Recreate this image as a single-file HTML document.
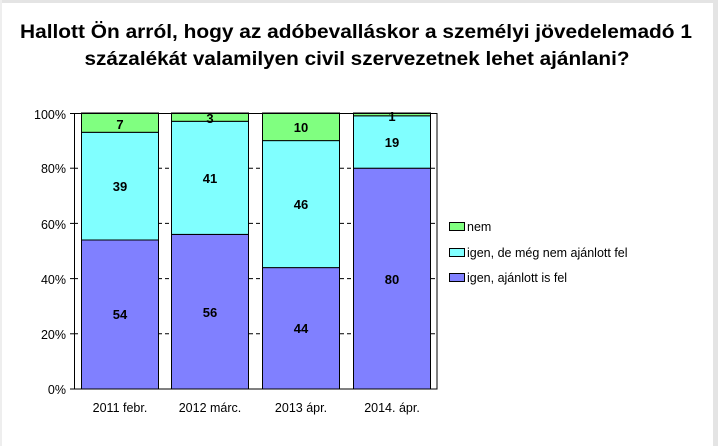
<!DOCTYPE html>
<html><head><meta charset="utf-8"><style>
html,body{margin:0;padding:0;background:#fff;}
svg{display:block;font-family:"Liberation Sans",Arial,sans-serif;}
</style></head><body>
<svg width="718" height="446" viewBox="0 0 718 446">
<rect x="0" y="0" width="718" height="446" fill="#fff"/>
<rect x="0" y="0" width="718" height="3" fill="#e4e4e4"/>
<rect x="713" y="0" width="5" height="446" fill="#e4e4e4"/>
<rect x="0" y="0" width="2" height="446" fill="#eeeeee"/>
<g font-weight="bold" font-size="19" fill="#000" text-anchor="middle">
<text x="356" y="38" textLength="672" lengthAdjust="spacingAndGlyphs">Hallott Ön arról, hogy az adóbevalláskor a személyi jövedelemadó 1</text>
<text x="357" y="65" textLength="545" lengthAdjust="spacingAndGlyphs">százalékát valamilyen civil szervezetnek lehet ajánlani?</text>
</g>
<!-- grid -->
<g stroke="#000" stroke-width="1" stroke-dasharray="4,3">
<line x1="74" y1="333.8" x2="437" y2="333.8"/>
<line x1="74" y1="278.6" x2="437" y2="278.6"/>
<line x1="74" y1="223.4" x2="437" y2="223.4"/>
<line x1="74" y1="168.2" x2="437" y2="168.2"/>
</g>
<g stroke="#000" stroke-width="1">
<!-- bar1 -->
<rect x="81.5" y="240" width="77" height="149" fill="#8080ff"/>
<rect x="81.5" y="132.3" width="77" height="107.7" fill="#80ffff"/>
<rect x="81.5" y="113" width="77" height="19.3" fill="#80ff80"/>
<!-- bar2 -->
<rect x="171.5" y="234.4" width="77" height="154.6" fill="#8080ff"/>
<rect x="171.5" y="121.3" width="77" height="113.1" fill="#80ffff"/>
<rect x="171.5" y="113" width="77" height="8.3" fill="#80ff80"/>
<!-- bar3 -->
<rect x="262.5" y="267.6" width="77" height="121.4" fill="#8080ff"/>
<rect x="262.5" y="140.6" width="77" height="127" fill="#80ffff"/>
<rect x="262.5" y="113" width="77" height="27.6" fill="#80ff80"/>
<!-- bar4 -->
<rect x="353.5" y="168.2" width="77" height="220.8" fill="#8080ff"/>
<rect x="353.5" y="115.8" width="77" height="52.4" fill="#80ffff"/>
<rect x="353.5" y="113" width="77" height="2.8" fill="#80ff80"/>
<rect x="74.5" y="113.5" width="362.5" height="275.5" fill="none"/>
<line x1="70" y1="389" x2="74" y2="389"/>
<line x1="70" y1="333.8" x2="74" y2="333.8"/>
<line x1="70" y1="278.6" x2="74" y2="278.6"/>
<line x1="70" y1="223.4" x2="74" y2="223.4"/>
<line x1="70" y1="168.2" x2="74" y2="168.2"/>
<line x1="70" y1="113.5" x2="74" y2="113.5"/>
</g>
<g font-weight="bold" font-size="13" fill="#000" text-anchor="middle">
<text x="120" y="319">54</text><text x="120" y="191">39</text><text x="120" y="129">7</text>
<text x="210" y="317">56</text><text x="210" y="183">41</text><text x="210" y="123">3</text>
<text x="301" y="333">44</text><text x="301" y="209">46</text><text x="301" y="132">10</text>
<text x="392" y="284">80</text><text x="392" y="147">19</text><text x="392" y="121">1</text>
</g>
<g font-size="12.5" fill="#000" text-anchor="end">
<text x="66" y="394">0%</text>
<text x="66" y="339">20%</text>
<text x="66" y="284">40%</text>
<text x="66" y="229">60%</text>
<text x="66" y="173">80%</text>
<text x="66" y="119">100%</text>
</g>
<g font-size="12.5" fill="#000" text-anchor="middle">
<text x="120" y="412">2011 febr.</text>
<text x="210" y="412">2012 márc.</text>
<text x="301" y="412">2013 ápr.</text>
<text x="392" y="412">2014. ápr.</text>
</g>
<g stroke="#000" stroke-width="1">
<rect x="449.5" y="222.5" width="15" height="8" fill="#80ff80"/>
<rect x="449.5" y="248.5" width="15" height="8" fill="#80ffff"/>
<rect x="449.5" y="273.5" width="15" height="8" fill="#8080ff"/>
</g>
<g font-size="12.5" fill="#000">
<text x="467" y="231">nem</text>
<text x="467" y="257">igen, de még nem ajánlott fel</text>
<text x="467" y="282">igen, ajánlott is fel</text>
</g>
</svg>
</body></html>
